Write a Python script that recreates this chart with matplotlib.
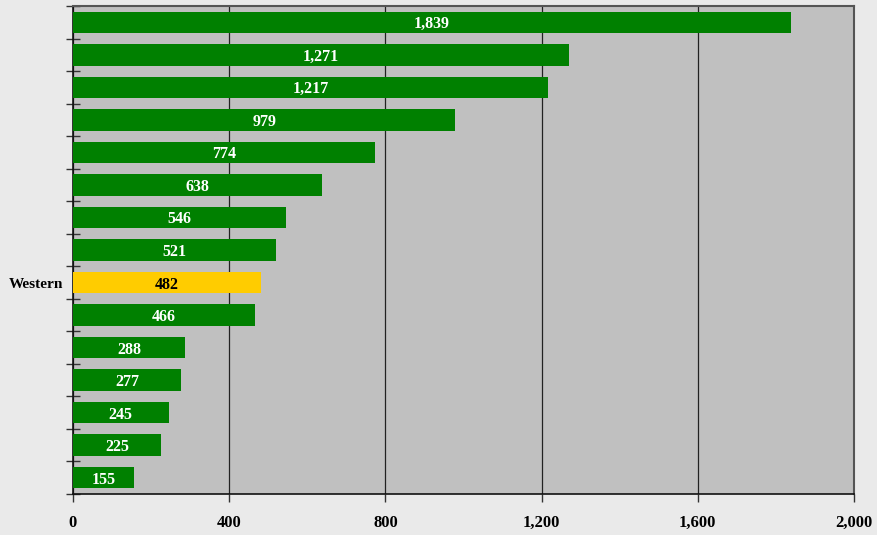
import matplotlib
matplotlib.use("Agg")
import matplotlib.pyplot as plt
import numpy as np

# Values from top bar to bottom bar
values = [1839, 1271, 1217, 979, 774, 638, 546, 521, 482, 466, 288, 277, 245, 225, 155]
categories = ["", "", "", "", "", "", "", "", "Western", "", "", "", "", "", ""]
highlight = "Western"
x_ticks = [0, 400, 800, 1200, 1600, 2000]

plt.rcParams["font.family"] = ["Liberation Serif", "DejaVu Serif"]

fig = plt.figure(figsize=(8.78, 5.35), dpi=100, facecolor="#eaeaea")
ax = fig.add_axes([73 / 878, 1 - 494 / 535, (854 - 73) / 878, (494 - 6) / 535])
ax.set_facecolor("#c0c0c0")

n = len(values)
ypos = np.arange(n)
colors = ["#ffcc00" if c == highlight else "#008000" for c in categories]
ax.barh(ypos, values, height=0.66, color=colors, zorder=3)

for y, v, c in zip(ypos, values, categories):
    ax.text(v / 2, y, f"{v:,}", ha="center", va="center_baseline", fontsize=11.5,
            fontweight="bold", color="black" if c == highlight else "white", zorder=4)

ax.set_xlim(0, 2000)
ax.set_ylim(n - 0.5, -0.5)
ax.set_xticks(x_ticks)
ax.set_xticklabels([f"{t:,}" for t in x_ticks], fontsize=12, fontweight="bold")
ax.tick_params(axis="x", direction="out", length=6, width=1, color="#333333", pad=9)
ax.xaxis.grid(True, color="#222222", linewidth=0.9, zorder=1)

ax.set_yticks(ypos)
ax.set_yticklabels(categories, fontsize=11, fontweight="bold")
ax.tick_params(axis="y", which="major", length=0, pad=7)
ax.set_yticks(np.arange(n + 1) - 0.5, minor=True)
ax.tick_params(axis="y", which="minor", direction="inout", length=10, width=1, color="#333333")

for side in ["left", "bottom"]:
    ax.spines[side].set_color("#111111")
    ax.spines[side].set_linewidth(1.2)
for side in ["top", "right"]:
    ax.spines[side].set_color("#555555")
    ax.spines[side].set_linewidth(1.5)

fig.savefig("out.png", dpi=100, facecolor=fig.get_facecolor())
